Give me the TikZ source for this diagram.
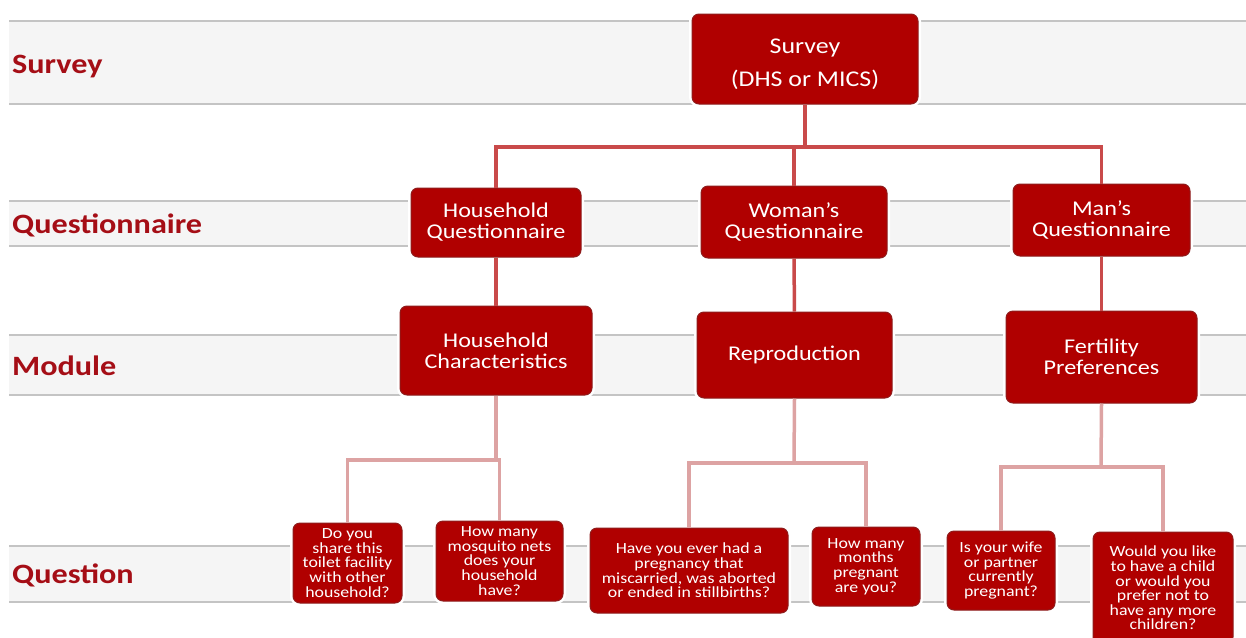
\documentclass[tikz,border=0pt]{standalone}
\usepackage{fontspec}
\setmainfont{Carlito}[FakeStretch=1.15]
\usetikzlibrary{calc}
\definecolor{boxred}{HTML}{B00000}
\definecolor{boxrim}{HTML}{8E1C1C}
\definecolor{lblred}{HTML}{A50E16}
\definecolor{bandfill}{HTML}{F5F5F5}
\definecolor{bandline}{HTML}{C4C4C4}
\definecolor{linkdark}{HTML}{C94A4A}
\definecolor{linklight}{HTML}{DDA3A3}
\tikzset{
  qbox/.style={rectangle,rounded corners=7pt,fill=boxred,draw=boxrim,line width=1pt,
    text=white,align=center,inner sep=2pt,preaction={draw=white,line width=6pt}},
  lvl/.style={anchor=base west,inner sep=0pt,text=lblred,font=\fontsize{28}{30}\selectfont\bfseries},
  conn/.style={draw=linkdark,line width=3.5pt},
  connlow/.style={draw=linklight,line width=3.5pt}
}
\newcommand\topfont{\fontsize{22.5}{33}\selectfont}
\newcommand\midfont{\fontsize{21}{21}\selectfont}
\newcommand\qfont{\fontsize{15.5}{14.6}\selectfont}
\begin{document}
\begin{tikzpicture}[x=1pt,y=-1pt]
\useasboundingbox (0,0) rectangle (1246,637);
% level bands
\foreach \t/\b in {21/104,201/246,335/395,546/602}{
  \fill[bandfill] (9,\t) rectangle (1246,\b);
  \draw[bandline,line width=1.5pt] (9,\t) -- (1246,\t) (9,\b) -- (1246,\b);}
\node[lvl] (lsvy) at (12,73) {Survey};
\node[lvl] (lqst) at (12,233) {Questionnaire};
\node[lvl] (lmod) at (12,375) {Module};
\node[lvl] (lq) at (12,583) {Question};

% boxes
\node[qbox,font=\topfont,text height=59pt,minimum width=226,minimum height=90] (svy) at (805,59) {Survey\\(DHS or MICS)};
\node[qbox,font=\midfont,minimum width=170,minimum height=69] (hq) at (496,222.5) {Household\\Questionnaire};
\node[qbox,font=\midfont,minimum width=186,minimum height=72] (wq) at (794,222) {Woman’s\\Questionnaire};
\node[qbox,font=\midfont,minimum width=177,minimum height=72] (mq) at (1101.5,220) {Man’s\\Questionnaire};
\node[qbox,font=\midfont,minimum width=192,minimum height=89] (hc) at (496,350.5) {Household\\Characteristics};
\node[qbox,font=\midfont,minimum width=195,minimum height=86] (rep) at (794.5,355) {Reproduction};
\node[qbox,font=\midfont,minimum width=191,minimum height=92] (fp) at (1101.5,357) {Fertility\\Preferences};
\node[qbox,font=\qfont,minimum width=109,minimum height=80] (q1) at (347.5,563) {Do you\\share this\\toilet facility\\with other\\household?};
\node[qbox,font=\qfont,minimum width=127,minimum height=80] (q2) at (499.5,561) {How many\\mosquito nets\\does your\\household\\have?};
\node[qbox,font=\qfont,minimum width=198,minimum height=85] (q3) at (689,570.5) {Have you ever had a\\pregnancy that\\miscarried, was aborted\\or ended in stillbirths?};
\node[qbox,font=\qfont,minimum width=108,minimum height=79] (q4) at (866,566.5) {How many\\months\\pregnant\\are you?};
\node[qbox,font=\qfont,minimum width=108,minimum height=79] (q5) at (1001,570.5) {Is your wife\\or partner\\currently\\pregnant?};
\node[qbox,font=\qfont,minimum width=140,minimum height=112] (q6) at (1163,588) {Would you like\\to have a child\\or would you\\prefer not to\\have any more\\children?};

% connectors
\coordinate (jtop) at (805,147);
\draw[conn] (svy.south) -- (jtop);
\draw[conn] (hq.north) |- (jtop) -| (mq.north);
\draw[conn] (wq.north) -- (wq.north |- jtop);
\draw[conn] (hq) -- (hc);
\draw[conn] (wq) -- (rep);
\draw[conn] (mq) -- (fp);
\coordinate (jhc) at (496,460);
\coordinate (jrep) at (794,463);
\coordinate (jfp) at (1101,467);
\draw[connlow] (hc.south) -- (jhc);
\draw[connlow] (q1.north) |- (jhc) -| (q2.north);
\draw[connlow] (rep.south) -- (jrep);
\draw[connlow] (q3.north) |- (jrep) -| (q4.north);
\draw[connlow] (fp.south) -- (jfp);
\draw[connlow] (q5.north) |- (jfp) -| (q6.north);
\end{tikzpicture}
\end{document}
